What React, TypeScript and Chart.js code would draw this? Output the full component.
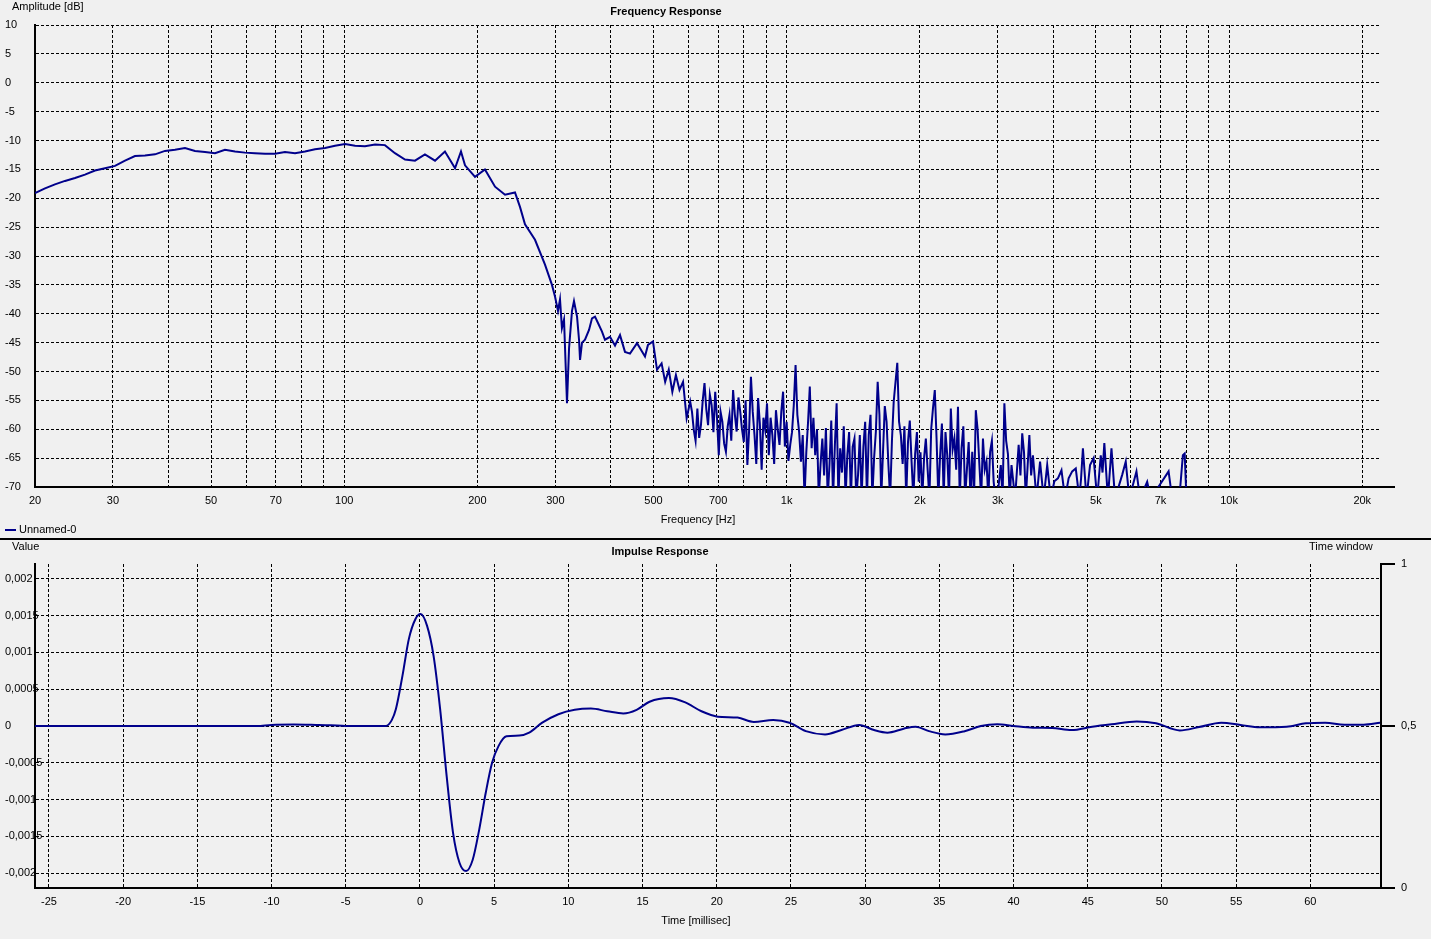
import React, { useEffect, useRef } from 'react';
import { Chart, registerables } from 'chart.js';

Chart.register(...registerables);

const FONT = '"Liberation Sans", Arial, sans-serif';
const LINE_COLOR = '#00008b';

// ---------- Frequency response (three frequency bands) ----------
const FR_LOW_HZ = [
  20, 21.07, 22.19, 23.38, 24.63, 25.94, 27.33, 28.79, 30.33, 31.95,
  33.65, 35.45, 37.35, 39.34, 41.44, 43.66, 45.99, 48.45, 51.04, 53.76,
  56.64, 59.66, 62.85, 66.21, 69.75, 73.47, 77.4, 81.53, 85.89, 90.48,
  95.31, 100.4, 105.8, 111.4, 117.4, 123.6, 130.2, 137.2, 144.5, 152.2,
  160.4, 168.9, 178.0, 183.6, 187.5, 197.5, 208.0, 219.2, 230.9, 243.2,
  249.6, 256.2, 269.9, 284.3, 294.8, 299.5, 304.2, 307.4, 310.5, 313.9,
  318.8, 322.2, 327.2, 330.6, 335.9, 339.4, 341.2, 344.7, 350.1, 357.5,
  363.1, 368.8, 374.6, 382.5, 388.5, 398.8, 409.3, 420.1, 431.1, 442.5,
  459.0, 478.4, 485.9, 498.7, 509.3, 521.6, 531.4, 541.4, 551.6, 561.9,
  572.5, 583.2, 594.2,
];
const FR_LOW_DB = [
  -19.1, -18.3, -17.6, -17.0, -16.5, -15.9, -15.2, -14.8, -14.4, -13.5,
  -12.7, -12.6, -12.4, -11.8, -11.6, -11.3, -11.8, -12.0, -12.2, -11.6,
  -11.9, -12.1, -12.2, -12.3, -12.3, -12.0, -12.2, -11.9, -11.5, -11.3,
  -10.9, -10.6, -10.9, -11.0, -10.7, -10.8, -12.2, -13.3, -13.5, -12.4,
  -13.5, -11.9, -14.8, -11.9, -14.3, -16.3, -15.0, -18.0, -19.4, -19.0,
  -21.5, -24.5, -27.2, -31.5, -35.0, -37.0, -39.5, -37.5, -42.5, -41.0,
  -55.5, -46.0, -39.5, -37.8, -40.5, -44.5, -48.0, -45.0, -44.5, -42.8,
  -40.8, -40.5, -41.6, -43.1, -44.5, -44.0, -45.5, -43.7, -46.6, -46.9,
  -45.1, -47.4, -45.4, -44.8, -49.7, -48.6, -51.8, -49.7, -53.5, -50.6,
  -53.2, -51.8, -58.1,
];
const FR_MID_HZ = [
  605.3, 611.0, 616.7, 622.5, 628.3, 634.2, 640.1, 646.1, 652.1, 658.2,
  664.3, 670.5, 676.8, 683.1, 689.5, 695.9, 702.4, 709.0, 715.6, 722.3,
  729.0, 735.8, 742.7, 749.6, 756.7, 763.8, 770.9, 778.1, 785.3, 792.6,
  800.1, 807.6, 815.1, 822.7, 830.4, 838.2, 845.9, 853.8, 861.8, 869.8,
  878.0, 886.2, 894.5, 902.9, 911.3, 919.8, 928.4, 937.1, 945.8, 954.6,
  963.5, 972.5, 981.6, 990.8, 1000, 1009.3, 1018.8, 1028.3, 1037.9, 1047.5,
  1057.3, 1067.2, 1077.2, 1087.3, 1097.4, 1107.6, 1117.9, 1128, 1138.9, 1149.5,
  1160.2, 1171.0, 1182.0, 1193.0, 1204.1, 1215.3, 1226.7, 1238.2, 1249.7, 1261.4,
  1273.1, 1285.0, 1297.0, 1309.1, 1321.3, 1333.6, 1346.1, 1358.7, 1371.3, 1384.1,
  1397.0, 1410.0, 1423.2, 1436.5, 1449.9, 1463.4, 1477.1, 1490.9, 1504.8, 1518.9,
  1533.0, 1547.3, 1561.7, 1576.3, 1591.0, 1606, 1620.8, 1636.0, 1651.2, 1666.6,
  1682.2, 1697.9, 1713.7, 1729.7, 1745.8, 1778.6, 1795, 1811.9, 1828.8, 1845.9,
  1863.1, 1880.5, 1898.1, 1915.8, 1933.7, 1951.7, 1969.9, 1988.3, 2006.9, 2025.6,
  2044.5, 2063.5, 2082.8, 2102.2, 2121.8, 2141.6, 2162, 2181.8, 2202.2, 2222.7,
  2243.5, 2264.4, 2285.5, 2306.8, 2328.3, 2350.1, 2372.0, 2394.2, 2416.6, 2439.1,
  2461.9, 2484.8, 2508.0, 2531.4, 2555.0, 2578.9, 2603.0, 2627.2, 2651.7, 2676.5,
  2701.5, 2726.7, 2752.2, 2777.8, 2803.7, 2829.9, 2856.3, 2883.0, 2910.0, 2937.0,
  2964.4, 2992.1, 3048.2, 3076.7, 3105.4, 3134.4, 3163.6, 3193.1, 3222.9, 3283.4,
];
const FR_MID_DB = [
  -55.2, -57.0, -60.1, -62.0, -56.4, -61.5, -59.3, -55.0, -52.0, -56.5,
  -59.3, -54.0, -55.8, -60.5, -53.5, -58.0, -64.5, -57.0, -58.7, -62.5,
  -63.9, -59.5, -57.5, -62.0, -53.2, -57.5, -60.4, -54.5, -56.9, -60.0,
  -62.2, -55.0, -66.2, -60.0, -50.9, -57.0, -61.0, -66.0, -54.6, -59.0,
  -67.0, -58.0, -60.1, -55.5, -64.5, -58.0, -61.0, -66.0, -56.7, -60.0,
  -62.7, -57.0, -53.5, -63.0, -58.7, -65.5, -62.7, -60.5, -55.8, -48.9,
  -57.5, -60.5, -65.6, -61.0, -72, -64.0, -58.7, -52.6, -63.3, -58.0,
  -64.5, -60.0, -72, -66.0, -61.6, -68.0, -59.8, -72, -66.2, -58.5,
  -72, -63.0, -55.5, -72, -63.3, -67.5, -59.5, -72, -64.5, -60.5,
  -72, -63.0, -61.6, -72, -67.9, -61.0, -72, -63.0, -58.7, -72,
  -61.0, -57.5, -72, -65.0, -60.4, -51.8, -57.5, -72, -63.9, -56.0,
  -58.7, -66.0, -72, -62.0, -55.2, -48.5, -58.7, -61.0, -66.0, -59.5,
  -72, -62.2, -58.5, -65.6, -72, -64.3, -60.5, -69.1, -64.0, -72,
  -65.0, -61.6, -67.0, -72, -60.0, -56.4, -53.2, -61.6, -72, -64.5,
  -59.0, -72, -60.5, -64.5, -72, -56.4, -63.5, -61.6, -67.0, -56.1,
  -72, -63.3, -59.5, -72, -67.0, -62.2, -72, -63.9, -72, -56.7,
  -60.0, -66.2, -72, -61.6, -67.0, -65.6, -72, -63.9, -62.0, -69.1,
  -72, -72, -66.2, -72, -55.5, -62.0, -64.3, -72, -66.2, -72,
];
const FR_HIGH_HZ = [
  3345.0, 3376.3, 3407.7, 3439.5, 3471.6, 3536.7, 3569.7, 3603.0, 3670.5, 3739.3,
  3809.5, 3880.9, 3953.7, 4028.0, 4103.4, 4180.3, 4258.7, 4338.6, 4420.0, 4502.9,
  4587.3, 4629.0, 4673.4, 4761.0, 4850.3, 4941.3, 5034.0, 5128.4, 5176.0, 5224.6,
  5322.5, 5422.4, 5524.1, 5733.2, 5840.7, 5950.3, 6175.6, 6291.4, 6529.6, 6652.1,
  7299.8, 7436.7, 7718.3, 7863.1, 7937, 8010.6,
];
const FR_HIGH_DB = [
  -62.7, -68.0, -60.7, -64.0, -72, -61.0, -68.0, -64.5, -72, -65.6,
  -72, -66.2, -72, -69.0, -68.5, -67.1, -72, -68.5, -67.3, -66.8,
  -72, -68.5, -63.3, -72, -66.2, -65.0, -72, -64.5, -67.5, -62.4,
  -72, -63.3, -72, -67.9, -65.6, -72, -67.3, -72, -69.1, -72,
  -67.3, -72, -72, -64.5, -64.2, -72,
];
const FREQ_MIN = 20;
const FREQ_MAX = 22050;
const FREQ_TICKS = [20, 30, 40, 50, 60, 70, 80, 90, 100, 200, 300, 400, 500, 600, 700, 800, 900, 1000, 2000, 3000, 4000, 5000, 6000, 7000, 8000, 9000, 10000, 20000];
const FREQ_TICK_LABELS: Record<number, string> = {
  20: '20', 30: '30', 50: '50', 70: '70', 100: '100', 200: '200', 300: '300', 500: '500', 700: '700',
  1000: '1k', 2000: '2k', 3000: '3k', 5000: '5k', 7000: '7k', 10000: '10k', 20000: '20k',
};
const DB_TICKS = [10, 5, 0, -5, -10, -15, -20, -25, -30, -35, -40, -45, -50, -55, -60, -65, -70];

// ---------- Impulse response ----------
const IMP_MS = [
  -25.94, -15, -11, -10, -8.5, -7, -6, -5, -2.3, -1.9,
  -1.62, -1.18, -0.75, -0.31, 0.04, 0.48, 0.92, 1.36, 1.8, 2.23,
  2.67, 3.11, 3.55, 3.99, 4.43, 4.86, 5.3, 5.83, 6.7, 7.36,
  8.24, 9.33, 10.43, 11.52, 12.62, 13.7, 14.6, 15.47, 16.78, 17.88,
  18.97, 20.07, 21.4, 22.5, 23.8, 24.9, 26, 27.3, 28.4, 29.6,
  30.6, 31.5, 32.6, 33.4, 34.3, 35.4, 36.7, 37.8, 38.9, 40,
  41.3, 42.6, 43.9, 45.3, 46.6, 48.3, 49.6, 51.2, 52.5, 54,
  55.3, 56.6, 58.4, 59.7, 61, 62.3, 63.6, 64.7,
];
const IMP_VAL = [
  0, 0, 0, 0.000015, 0.00002, 0.000015, 0.00001, 0, 0, 0.00008,
  0.00023, 0.00068, 0.00118, 0.00145, 0.00152, 0.00136, 0.00095, 0.00023, -0.00068, -0.00145,
  -0.00186, -0.00197, -0.00182, -0.00141, -0.00091, -0.0005, -0.00027, -0.00014, -0.00013, -0.00009,
  0.000045, 0.00016, 0.00022, 0.000236, 0.0002, 0.00017, 0.00022, 0.00033, 0.00038, 0.00032,
  0.0002, 0.000127, 0.000114, 0.000055, 0.00008, 0.000045, -0.00007, -0.000114, -0.000055, 0.000014,
  -0.000055, -0.00009, -0.000036, -0.00001, -0.00007, -0.000114, -0.00007, 0, 0.000023, 0,
  -0.000023, -0.000027, -0.000055, -0.00001, 0.000023, 0.00006, 0.000036, -0.00006, -0.000014, 0.000045,
  0.000014, -0.000018, -0.00001, 0.000036, 0.000045, 0.000018, 0.000018, 0.000045,
];
const TIME_MIN = -25.94;
const TIME_MAX = 64.76;
const TIME_TICKS = [-25, -20, -15, -10, -5, 0, 5, 10, 15, 20, 25, 30, 35, 40, 45, 50, 55, 60];
const VALUE_MIN = -0.0022;
const VALUE_MAX = 0.0022;
const VALUE_TICKS = [-0.002, -0.0015, -0.001, -0.0005, 0, 0.0005, 0.001, 0.0015, 0.002];
const WINDOW_TICKS = [0, 0.5, 1];

const comma = (v: number | string) => String(v).replace('.', ',');

type TextItem = { text: string; x: number; y: number; bold?: boolean; align?: CanvasTextAlign };

function drawTexts(ctx: CanvasRenderingContext2D, items: TextItem[]) {
  ctx.save();
  ctx.fillStyle = '#000';
  ctx.textBaseline = 'middle';
  for (const it of items) {
    ctx.font = `${it.bold ? 'bold ' : ''}11px ${FONT}`;
    ctx.textAlign = it.align || 'left';
    ctx.fillText(it.text, it.x, it.y);
  }
  ctx.restore();
}

const AXIS_END_X = 1395;

export default function App() {
  const topRef = useRef<HTMLCanvasElement>(null);
  const botRef = useRef<HTMLCanvasElement>(null);

  useEffect(() => {
    Chart.defaults.font.family = FONT;
    Chart.defaults.font.size = 11;
    Chart.defaults.color = '#000';

    const tickFont = { family: FONT, size: 11 };
    const gridCommon = { color: '#000', lineWidth: 1, drawTicks: false };
    const borderCommon = { display: true, color: '#000', width: 2, dash: [3, 2] };

    const freqHz = [...FR_LOW_HZ, ...FR_MID_HZ, ...FR_HIGH_HZ];
    const freqDb = [...FR_LOW_DB, ...FR_MID_DB, ...FR_HIGH_DB];

    const topDeco = {
      id: 'topDeco',
      afterDraw(chart: any) {
        const ctx = chart.ctx as CanvasRenderingContext2D;
        const xs = chart.scales.x;
        const ca = chart.chartArea;
        ctx.save();
        ctx.fillStyle = '#000';
        ctx.fillRect(ca.right, xs.top - 1, AXIS_END_X - ca.right, 2);
        ctx.fillStyle = LINE_COLOR;
        ctx.fillRect(5, 529, 11, 2);
        ctx.restore();
        drawTexts(ctx, [
          { text: 'Amplitude [dB]', x: 12, y: 7 },
          { text: 'Frequency Response', x: 666, y: 12, bold: true, align: 'center' },
          { text: 'Frequency [Hz]', x: 698, y: 520, align: 'center' },
          { text: 'Unnamed-0', x: 19, y: 530 },
        ]);
      },
    };

    const botDeco = {
      id: 'botDeco',
      beforeDraw(chart: any) {
        // value labels of the left axis: left-aligned, allowed to run under the axis line
        const ys = chart.scales.y;
        drawTexts(
          chart.ctx,
          VALUE_TICKS.map((v) => ({ text: comma(v), x: 5, y: ys.getPixelForValue(v) })),
        );
      },
      afterDraw(chart: any) {
        const ctx = chart.ctx as CanvasRenderingContext2D;
        const xs = chart.scales.x;
        const ca = chart.chartArea;
        ctx.save();
        ctx.fillStyle = '#000';
        ctx.fillRect(ca.right, xs.top - 1, AXIS_END_X - ca.right, 2);
        ctx.restore();
        drawTexts(ctx, [
          { text: 'Value', x: 12, y: 7 },
          { text: 'Impulse Response', x: 660, y: 12, bold: true, align: 'center' },
          { text: 'Time window', x: 1309, y: 7 },
          { text: 'Time [millisec]', x: 696, y: 381, align: 'center' },
        ]);
      },
    };

    const top = new Chart(topRef.current!, {
      type: 'line',
      data: {
        datasets: [
          {
            label: 'Unnamed-0',
            data: freqHz.map((f, i) => ({ x: f, y: freqDb[i] })),
            borderColor: LINE_COLOR,
            borderWidth: 2,
            pointRadius: 0,
            tension: 0,
            fill: false,
          },
        ],
      },
      options: {
        responsive: false,
        maintainAspectRatio: false,
        animation: false,
        events: [],
        layout: { padding: { left: 5, right: 50, top: 25, bottom: 0 } },
        plugins: { legend: { display: false }, title: { display: false }, tooltip: { enabled: false } },
        scales: {
          x: {
            type: 'logarithmic',
            min: FREQ_MIN,
            max: FREQ_MAX,
            afterBuildTicks: (s: any) => { s.ticks = FREQ_TICKS.map((v) => ({ value: v })); },
            afterFit: (s: any) => { s.height = 51; },
            grid: gridCommon,
            border: borderCommon,
            ticks: {
              autoSkip: false,
              maxRotation: 0,
              minRotation: 0,
              padding: 7,
              font: tickFont,
              color: '#000',
              callback: (v: any) => FREQ_TICK_LABELS[Number(v)] ?? '',
            },
          },
          y: {
            type: 'linear',
            min: -70,
            max: 10,
            afterBuildTicks: (s: any) => { s.ticks = DB_TICKS.map((v) => ({ value: v })); },
            afterFit: (s: any) => { s.width = 30; },
            grid: gridCommon,
            border: borderCommon,
            ticks: {
              crossAlign: 'far',
              padding: 0,
              font: tickFont,
              color: '#000',
              callback: (v: any) => String(v),
            },
          },
        },
      } as any,
      plugins: [topDeco],
    });

    const bot = new Chart(botRef.current!, {
      type: 'line',
      data: {
        datasets: [
          {
            label: 'Impulse',
            data: IMP_MS.map((t, i) => ({ x: t, y: IMP_VAL[i] })),
            borderColor: LINE_COLOR,
            borderWidth: 2,
            pointRadius: 0,
            cubicInterpolationMode: 'monotone',
            fill: false,
            yAxisID: 'y',
          },
        ],
      },
      options: {
        responsive: false,
        maintainAspectRatio: false,
        animation: false,
        events: [],
        layout: { padding: { left: 5, right: 10, top: 24, bottom: 0 } },
        plugins: { legend: { display: false }, title: { display: false }, tooltip: { enabled: false } },
        scales: {
          x: {
            type: 'linear',
            min: TIME_MIN,
            max: TIME_MAX,
            afterBuildTicks: (s: any) => { s.ticks = TIME_TICKS.map((v) => ({ value: v })); },
            afterFit: (s: any) => { s.height = 51; },
            grid: gridCommon,
            border: borderCommon,
            ticks: {
              autoSkip: false,
              maxRotation: 0,
              minRotation: 0,
              padding: 7,
              font: tickFont,
              color: '#000',
              callback: (v: any) => String(v),
            },
          },
          y: {
            type: 'linear',
            position: 'left',
            min: VALUE_MIN,
            max: VALUE_MAX,
            afterBuildTicks: (s: any) => { s.ticks = VALUE_TICKS.map((v) => ({ value: v })); },
            afterFit: (s: any) => { s.width = 30; },
            grid: gridCommon,
            border: borderCommon,
            ticks: { display: false },
          },
          y2: {
            type: 'linear',
            position: 'right',
            min: 0,
            max: 1,
            afterBuildTicks: (s: any) => { s.ticks = WINDOW_TICKS.map((v) => ({ value: v })); },
            afterFit: (s: any) => { s.width = 40; },
            grid: { drawOnChartArea: false, drawTicks: true, tickLength: 14, color: '#000', lineWidth: 2 },
            border: { display: true, color: '#000', width: 2 },
            ticks: {
              padding: 6,
              font: tickFont,
              color: '#000',
              callback: (v: any) => comma(v),
            },
          },
        },
      } as any,
      plugins: [botDeco],
    });

    return () => {
      top.destroy();
      bot.destroy();
    };
  }, []);

  return (
    <div
      style={{
        position: 'absolute',
        left: 0,
        top: 0,
        width: 1431,
        height: 939,
        background: '#f0f0f0',
        overflow: 'hidden',
      }}
    >
      <canvas ref={topRef} width={1431} height={538} style={{ position: 'absolute', left: 0, top: 0, display: 'block' }} />
      <div style={{ position: 'absolute', left: 0, top: 538, width: 1431, height: 2, background: '#000' }} />
      <canvas ref={botRef} width={1431} height={399} style={{ position: 'absolute', left: 0, top: 540, display: 'block' }} />
    </div>
  );
}
